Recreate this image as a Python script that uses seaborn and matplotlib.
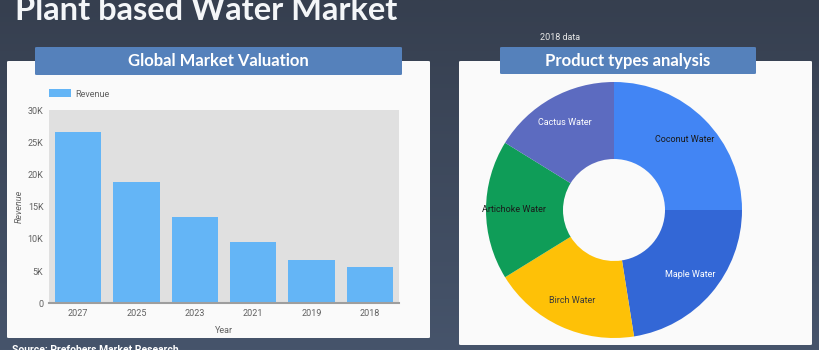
import numpy as np
import pandas as pd
import matplotlib
matplotlib.use("Agg")
import matplotlib.pyplot as plt
from matplotlib.patches import FancyBboxPatch
from matplotlib.colors import LinearSegmentedColormap
import seaborn as sns

# ---- data ----
years = ["2027", "2025", "2023", "2021", "2019", "2018"]
revenue = [26600, 18800, 13400, 9500, 6700, 5600]
y_ticks = [0, 5000, 10000, 15000, 20000, 25000, 30000]
y_tick_labels = ["0", "5K", "10K", "15K", "20K", "25K", "30K"]

products = ["Coconut Water", "Maple Water", "Birch Water", "Artichoke Water", "Cactus Water"]
shares = [25.0, 22.5, 18.7, 17.6, 16.2]
product_colors = ["#4285f4", "#3367d6", "#fec107", "#0f9d58", "#5c6bc0"]
label_colors = ["#1a1a1a", "#ffffff", "#3a3a3a", "#1a1a1a", "#ffffff"]

title = "Plant based Water Market"
left_title = "Global Market Valuation"
right_title = "Product types analysis"
note = "2018 data"
source = "Source: Prefobers Market Research"

sns.set_theme(style="white")
plt.rcParams["font.family"] = ["Roboto", "DejaVu Sans"]

W, H = 820, 350
fig = plt.figure(figsize=(W / 100, H / 100), dpi=100)


def fx(x):
    return x / W


def fy(y):
    return 1 - y / H


# background gradient
bg = fig.add_axes([0, 0, 1, 1], zorder=0)
grad = np.linspace(0, 1, 256).reshape(-1, 1)
cmap = LinearSegmentedColormap.from_list("bg", ["#363f4f", "#46546b"])
bg.imshow(grad, aspect="auto", cmap=cmap, extent=[0, 1, 0, 1], origin="upper")
bg.set_xlim(0, 1)
bg.set_ylim(0, 1)
bg.axis("off")


def card(x0, y0, x1, y1, color, rad=2):
    p = FancyBboxPatch((fx(x0), fy(y1)), fx(x1) - fx(x0), fy(y0) - fy(y1),
                       boxstyle=f"round,pad=0,rounding_size={rad / W}",
                       transform=fig.transFigure, facecolor=color, edgecolor="none",
                       zorder=1)
    bg.add_artist(p)


card(7, 61, 430, 338, "#fafafa")
card(459, 61, 812, 345, "#fafafa")
card(35, 47, 402, 75, "#5581bb")
card(500, 47, 756, 74, "#5581bb")

fig.text(fx(15), fy(20.5), title, family=["Lato", "DejaVu Sans"], fontweight="bold",
         fontsize=23.5, color="#f4f6f8", va="baseline", ha="left")
fig.text(fx(218), fy(61), left_title, family=["Lato", "DejaVu Sans"], fontweight="bold",
         fontsize=12, color="white", va="center", ha="center")
fig.text(fx(628), fy(61), right_title, family=["Lato", "DejaVu Sans"], fontweight="bold",
         fontsize=12, color="white", va="center", ha="center")
fig.text(fx(540), fy(37), note, fontsize=6.5, color="#e8e8e8", va="center", ha="left")
fig.text(fx(12), fy(345), source, fontsize=7.5, fontweight="bold", color="white",
         va="top", ha="left")

# ---- bar chart ----
ax = fig.add_axes([fx(49), fy(303.3), fx(399) - fx(49), fy(110) - fy(303.3)], zorder=2)
df = pd.DataFrame({"Year": years, "Revenue": revenue})
sns.barplot(data=df, x="Year", y="Revenue", order=years, color="#64b5f6",
            saturation=1, width=0.79, ax=ax, label="Revenue", linewidth=0,
            edgecolor="none")
ax.set_facecolor("#e0e0e0")
ax.set_ylim(0, 30000)
ax.set_xlim(-0.5, len(years) - 0.5)
ax.set_yticks(y_ticks)
ax.set_yticklabels(y_tick_labels)
for s in ["top", "right", "left"]:
    ax.spines[s].set_visible(False)
ax.spines["bottom"].set_color("#9e9e9e")
ax.spines["bottom"].set_linewidth(1.5)
ax.tick_params(axis="both", length=0, labelsize=6.5, colors="#616161", pad=4)
ax.set_xlabel("Year", fontsize=6.5, color="#616161", labelpad=6)
ax.set_ylabel("Revenue", fontsize=6.5, color="#616161", style="italic", labelpad=3)
ax.grid(False)
leg = ax.legend(loc="center left", bbox_to_anchor=(0, 1.083), frameon=False,
                fontsize=6.5, handlelength=2.4, handleheight=1.0, borderaxespad=0,
                borderpad=0, handletextpad=0.5)
for t in leg.get_texts():
    t.set_color("#616161")

# ---- donut chart ----
R = 128
ax2 = fig.add_axes([fx(614 - R), fy(210 + R), fx(2 * R), (2 * R) / H], zorder=2)
wedges, texts = ax2.pie(shares, labels=products, colors=product_colors, startangle=90,
                        counterclock=False, radius=1, labeldistance=0.78,
                        wedgeprops=dict(width=1 - 51 / 128, edgecolor="none"),
                        textprops=dict(fontsize=6.5, ha="center", va="center"))
for t, c in zip(texts, label_colors):
    t.set_color(c)
    t.set_ha("center")
ax2.set_xlim(-1, 1)
ax2.set_ylim(-1, 1)
ax2.set_aspect("equal")
ax2.axis("off")

fig.savefig("out.png", dpi=100)
